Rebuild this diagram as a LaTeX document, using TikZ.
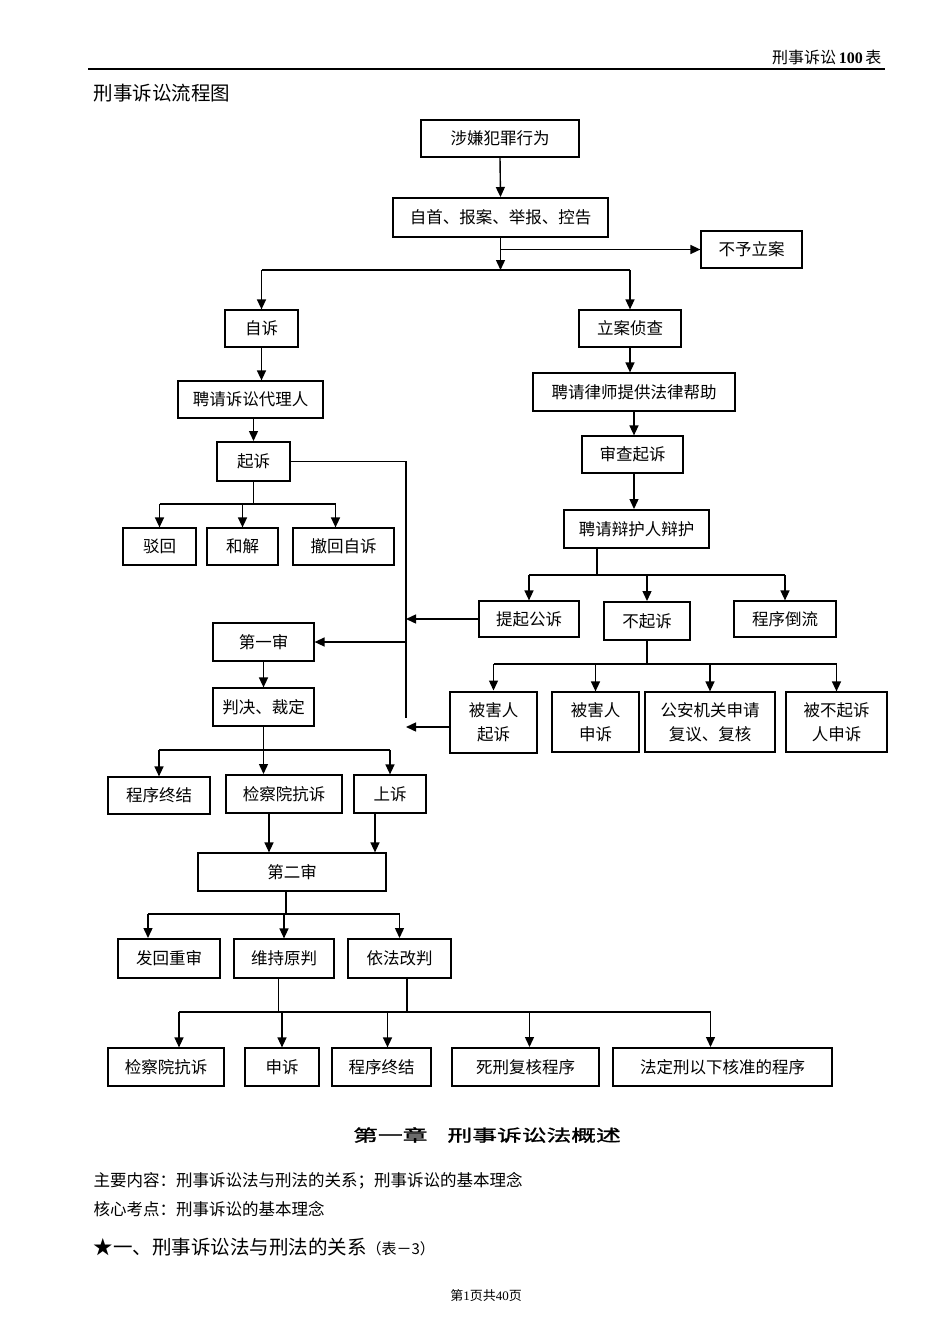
\documentclass[tikz,border=0pt]{standalone}
\usepackage{fontspec}
\setmainfont{Liberation Serif}
\newfontfamily\hei{Noto Sans CJK SC}
\newfontfamily\chapfont[FakeStretch=1.5,FakeBold=1.5]{Noto Sans CJK SC}
\usetikzlibrary{arrows.meta}

\begin{document}
\begin{tikzpicture}[x=1pt,y=-1pt,
	box/.style={draw,line width=1.2,inner sep=0pt,align=center,font=\hei\fontsize{16.5}{24}\selectfont},
	heavybox/.style={box,line width=2},
	sz/.style 2 args={minimum width=#1,minimum height=#2},
	ln/.style={line width=1.4},
	arr/.style={ln,-{Triangle[length=10pt,width=9pt]}}]
	\useasboundingbox (0,0) rectangle (950,1344);
	\node[anchor=east,font=\hei\fontsize{16}{18}\selectfont] (hdr) at (885,57) {刑事诉讼{\rmfamily\bfseries\,100\,}表};
	\draw[line width=1.3] (88,69) -- (885,69);
	\node[anchor=west,font=\hei\fontsize{19.5}{22}\selectfont] (title) at (90,93) {刑事诉讼流程图};
	% boxes
	\node[box,sz={158}{37}] (xianyi) at (500,138.5) {涉嫌犯罪行为};
	\node[heavybox,sz={215}{39}] (zishou) at (500.5,217.5) {自首、报案、举报、控告};
	\node[box,sz={101}{37}] (buyu) at (751.5,249.5) {不予立案};
	\node[box,sz={73}{37}] (zisu) at (261.5,328.5) {自诉};
	\node[box,sz={145}{37}] (daili) at (250.5,399.5) {聘请诉讼代理人};
	\node[heavybox,sz={73}{39}] (qisu) at (253.5,461.5) {起诉};
	\node[box,sz={73}{37}] (bohui) at (159.5,546.5) {驳回};
	\node[box,sz={71}{37}] (hejie) at (242.5,546.5) {和解};
	\node[box,sz={101}{37}] (chehui) at (343.5,546.5) {撤回自诉};
	\node[box,sz={102}{37}] (lian) at (630,328.5) {立案侦查};
	\node[box,sz={202}{38}] (lvshi) at (634,392) {聘请律师提供法律帮助};
	\node[box,sz={101}{37}] (shencha) at (632.5,454.5) {审查起诉};
	\node[heavybox,sz={145}{38}] (bianhu) at (636.5,529) {聘请辩护人辩护};
	\node[box,sz={100}{36}] (tiqi) at (529,619) {提起公诉};
	\node[heavybox,sz={86}{38}] (buqisu) at (647,621) {不起诉};
	\node[box,sz={102}{36}] (daoliu) at (785,619) {程序倒流};
	\node[box,sz={101}{38}] (diyi) at (263.5,642) {第一审};
	\node[box,sz={101}{38}] (panjue) at (263.5,707) {判决、裁定};
	\node[heavybox,sz={87}{61}] (shouhai) at (493.5,722) {被害人\\起诉};
	\node[box,sz={87}{60}] (shensu) at (595.5,722) {被害人\\申诉};
	\node[box,sz={130}{60}] (gongan) at (710,722) {公安机关申请\\复议、复核};
	\node[box,sz={101}{60}] (beibu) at (836.5,722) {被不起诉\\人申诉};
	\node[box,sz={102}{37}] (zhongjie) at (159,795.5) {程序终结};
	\node[heavybox,sz={116}{38}] (kangsu) at (284,794) {检察院抗诉};
	\node[box,sz={72}{38}] (shangsu) at (390,794) {上诉};
	\node[box,sz={188}{38}] (ershen) at (292,872) {第二审};
	\node[heavybox,sz={102}{39}] (fahui) at (169,958.5) {发回重审};
	\node[box,sz={100}{39}] (weichi) at (284,958.5) {维持原判};
	\node[heavybox,sz={103}{39}] (yifa) at (399.5,958.5) {依法改判};
	\node[box,sz={116}{38}] (jckangsu) at (166,1067) {检察院抗诉};
	\node[box,sz={74}{38}] (shensu2) at (282,1067) {申诉};
	\node[box,sz={99}{38}] (zhongjie2) at (381.5,1067) {程序终结};
	\node[heavybox,sz={147}{38}] (sixing) at (525.5,1067) {死刑复核程序};
	\node[heavybox,sz={219}{38}] (fading) at (722.5,1067) {法定刑以下核准的程序};
	% top part
	\coordinate (j1) at (497,270);
	\draw[arr] (xianyi.south) -- (zishou.north);
	\draw[arr] (zishou.south) -- (zishou.south |- j1);
	\draw[arr] (zishou.south |- buyu.west) -- (buyu.west);
	\draw[ln] (zisu.north |- j1) -- (lian.north |- j1);
	\draw[arr] (zisu.north |- j1) -- (zisu.north);
	\draw[arr] (lian.north |- j1) -- (lian.north);
	% self prosecution
	\draw[arr] (zisu.south) -- (zisu.south |- daili.north);
	\draw[arr] (daili.south -| qisu.north) -- (qisu.north);
	\coordinate (j2) at (256,504);
	\coordinate (c1) at ([xshift=-8pt]chehui.north);
	\draw[ln] (qisu.south) -- (qisu.south |- j2);
	\draw[ln] (bohui.north |- j2) -- (c1 |- j2);
	\draw[arr] (bohui.north |- j2) -- (bohui.north);
	\draw[arr] (hejie.north |- j2) -- (hejie.north);
	\draw[arr] (c1 |- j2) -- (c1);
	\coordinate (bus) at (406,718);
	\draw[ln] (qisu.east) -| (bus);
	\draw[arr] (tiqi.west) -- (tiqi.west -| bus);
	\draw[arr] ([yshift=-5pt]shouhai.west) -- ([yshift=-5pt]shouhai.west -| bus);
	\draw[arr] (diyi.east -| bus) -- (diyi.east);
	% public prosecution
	\draw[arr] (lian.south) -- (lian.south |- lvshi.north);
	\draw[arr] (lvshi.south) -- (lvshi.south |- shencha.north);
	\draw[arr] (shencha.south -| lvshi) -- (bianhu.north -| lvshi);
	\coordinate (j4) at (597,575);
	\draw[ln] (bianhu.south -| j4) -- (j4);
	\draw[ln] (tiqi.north |- j4) -- (daoliu.north |- j4);
	\draw[arr] (tiqi.north |- j4) -- (tiqi.north);
	\draw[arr] (buqisu.north |- j4) -- (buqisu.north);
	\draw[arr] (daoliu.north |- j4) -- (daoliu.north);
	\coordinate (j5) at (646,664);
	\draw[ln,line width=2] (buqisu.south) -- (buqisu.south |- j5);
	\draw[ln] (shouhai.north |- j5) -- (beibu.north |- j5);
	\draw[arr] (shouhai.north |- j5) -- (shouhai.north);
	\draw[arr] (shensu.north |- j5) -- (shensu.north);
	\draw[arr] (gongan.north |- j5) -- (gongan.north);
	\draw[arr] (beibu.north |- j5) -- (beibu.north);
	% first trial
	\draw[arr] (diyi.south) -- (panjue.north);
	\coordinate (j6) at (264,750);
	\draw[ln] (panjue.south) -- (panjue.south |- j6);
	\draw[ln] (zhongjie.north |- j6) -- (shangsu.north |- j6);
	\draw[arr] (zhongjie.north |- j6) -- (zhongjie.north);
	\draw[arr] (panjue.south |- j6) -- (panjue.south |- kangsu.north);
	\draw[arr] (shangsu.north |- j6) -- (shangsu.north);
	\coordinate (k1) at ([xshift=-15pt]kangsu.south);
	\coordinate (k2) at ([xshift=-15pt]shangsu.south);
	\draw[arr] (k1) -- (k1 |- ershen.north);
	\draw[arr] (k2) -- (k2 |- ershen.north);
	% second trial
	\coordinate (j7) at (286,914);
	\coordinate (f1) at ([xshift=-21pt]fahui.north);
	\draw[ln] (ershen.south -| j7) -- (j7);
	\draw[ln] (f1 |- j7) -- (yifa.north |- j7);
	\draw[arr] (f1 |- j7) -- (f1);
	\draw[arr] (weichi.north |- j7) -- (weichi.north);
	\draw[arr] (yifa.north |- j7) -- (yifa.north);
	\coordinate (j8) at (0,1012);
	\coordinate (g1) at ([xshift=13pt]jckangsu.north);
	\coordinate (g5) at ([xshift=-12pt]fading.north);
	\draw[line width=0.9] ([xshift=-6pt]weichi.south) -- ([xshift=-6pt]weichi.south |- j8);
	\draw[line width=2] ([xshift=7pt]yifa.south) -- ([xshift=7pt]yifa.south |- j8);
	\draw[ln] (g1 |- j8) -- (g5 |- j8);
	\draw[arr] (g1 |- j8) -- (g1);
	\draw[arr] (shensu2.north |- j8) -- (shensu2.north);
	\draw[arr] ([xshift=6pt]zhongjie2.north |- j8) -- ([xshift=6pt]zhongjie2.north);
	\draw[arr] ([xshift=4pt]sixing.north |- j8) -- ([xshift=4pt]sixing.north);
	\draw[arr] (g5 |- j8) -- (g5);
	% text below
	\node[font=\chapfont\fontsize{16.5}{20}\selectfont] (chap) at (487,1135) {第一章\hspace{20pt}刑事诉讼法概述};
	\node[anchor=west,font=\hei\fontsize{16.5}{20}\selectfont] (main) at (90,1181) {主要内容：刑事诉讼法与刑法的关系；刑事诉讼的基本理念};
	\node[anchor=west,font=\hei\fontsize{16.5}{20}\selectfont] (core) at (90,1209) {核心考点：刑事诉讼的基本理念};
	\node[anchor=west,font=\hei\fontsize{19.5}{22}\selectfont] (sec) at (90,1247) {★一、刑事诉讼法与刑法的关系{\fontsize{15}{17}\selectfont（表－3）}};
	\node[font=\hei\fontsize{13}{15}\selectfont] (foot) at (486,1296) {第{\rmfamily 1}页共{\rmfamily 40}页};
\end{tikzpicture}
\end{document}
